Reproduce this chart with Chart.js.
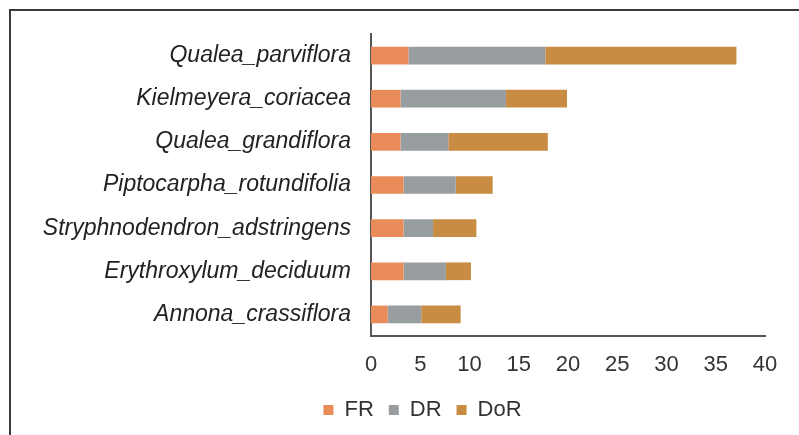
<!DOCTYPE html>
<html>
<head>
<meta charset="utf-8">
<script src="https://cdn.jsdelivr.net/npm/chart.js@4.4.1/dist/chart.umd.min.js"></script>
<style>
  html, body { margin: 0; padding: 0; background: #ffffff; }
  #wrap { position: relative; width: 799px; height: 435px; }
  canvas { display: block; }
</style>
</head>
<body>
<div id="wrap"><canvas id="c" width="799" height="435"></canvas></div>
<script>
const categories = [
  "Qualea_parviflora",
  "Kielmeyera_coriacea",
  "Qualea_grandiflora",
  "Piptocarpha_rotundifolia",
  "Stryphnodendron_adstringens",
  "Erythroxylum_deciduum",
  "Annona_crassiflora"
];
const FR  = [3.8, 3.0, 3.0, 3.3, 3.3, 3.3, 1.7];
const DR  = [13.9, 10.7, 4.85, 5.3, 3.0, 4.3, 3.4];
const DoR = [19.4, 6.2, 10.1, 3.75, 4.4, 2.55, 4.0];
const xTicks = [0, 5, 10, 15, 20, 25, 30, 35, 40];

const FONT = "'Liberation Sans', Arial, sans-serif";

const framePlugin = {
  id: 'frame',
  beforeDraw(chart) {
    const ctx = chart.ctx;
    ctx.save();
    ctx.fillStyle = '#ffffff';
    ctx.fillRect(0, 0, chart.width, chart.height);
    ctx.strokeStyle = '#3a3a3a';
    ctx.lineWidth = 2;
    ctx.beginPath();
    ctx.moveTo(10, chart.height);
    ctx.lineTo(10, 10);
    ctx.lineTo(chart.width, 10);
    ctx.stroke();
    ctx.restore();
  }
};

const legendShift = {
  id: 'legendShift',
  afterLayout(chart) {
    if (chart.legend) {
      chart.legend.left += 30;
      chart.legend.right += 30;
    }
  }
};

new Chart(document.getElementById('c'), {
  type: 'bar',
  data: {
    labels: categories,
    datasets: [
      { label: 'FR', data: FR, backgroundColor: '#E98C5A' },
      { label: 'DR', data: DR, backgroundColor: '#989DA0' },
      { label: 'DoR', data: DoR, backgroundColor: '#C88C42' }
    ]
  },
  options: {
    indexAxis: 'y',
    responsive: false,
    animation: false,
    devicePixelRatio: 1,
    barPercentage: 0.82,
    categoryPercentage: 0.5,
    layout: { padding: { left: 20, right: 34, top: 34, bottom: 4 } },
    scales: {
      x: {
        stacked: true,
        min: 0,
        max: 40,
        afterBuildTicks(s) { s.ticks = xTicks.map(v => ({ value: v })); },
        afterFit(s) { s.height = 48; },
        grid: { display: false, drawTicks: false },
        border: { display: true, color: '#555555', width: 2 },
        ticks: { color: '#333333', padding: 15.5, font: { family: FONT, size: 22 } }
      },
      y: {
        stacked: true,
        afterFit(s) { s.width = 371 - 20; },
        grid: { display: false, drawTicks: false },
        border: { display: true, color: '#555555', width: 2 },
        ticks: { color: '#222222', padding: 20, font: { family: FONT, size: 23, style: 'italic' } }
      }
    },
    plugins: {
      legend: {
        position: 'bottom',
        labels: {
          color: '#333333',
          boxWidth: 10,
          boxHeight: 10,
          padding: 15,
          font: { family: FONT, size: 22 }
        }
      },
      tooltip: { enabled: false }
    }
  },
  plugins: [framePlugin, legendShift]
});
</script>
</body>
</html>
